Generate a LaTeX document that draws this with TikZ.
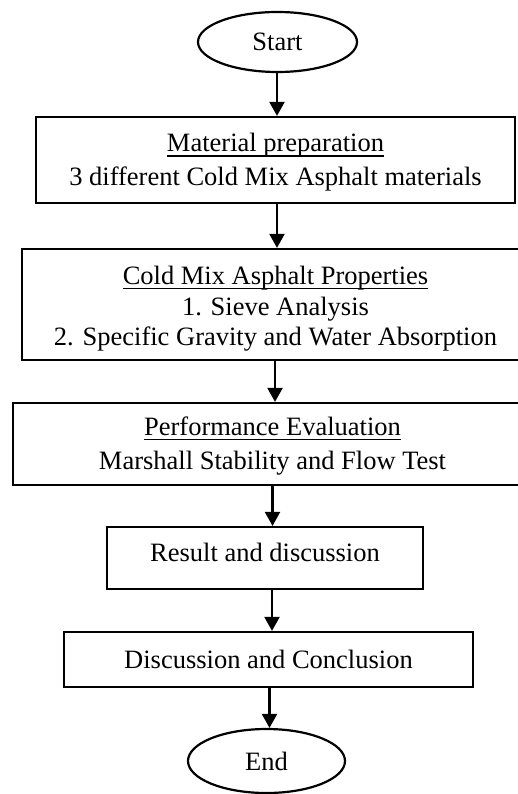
\documentclass[tikz,border=0pt]{standalone}
\usepackage{fontspec}
\setmainfont{Liberation Serif}
\usetikzlibrary{shapes.geometric,arrows.meta}
\newsavebox\myulbox
\newcommand\myul[1]{\sbox\myulbox{#1}\rlap{\rule[-4.8pt]{\wd\myulbox}{1.6pt}}\usebox\myulbox}
\newcommand\myTop[1]{\rule{0pt}{#1}}
\newcommand\myBot[1]{\rule[-#1]{0pt}{#1}}
\begin{document}
\begin{tikzpicture}[x=1pt,y=-1pt,
  every node/.style={font=\fontsize{26.5}{30.5}\selectfont},
  procbox/.style={draw, line width=2.2pt, inner sep=0pt, align=center},
  term/.style={draw, ellipse, line width=2.2pt, inner sep=0pt},
  flowarrow/.style={line width=2.2pt, -{Triangle[width=15pt,length=14pt]}}]
\useasboundingbox (0,0) rectangle (518,794);
\fill[white] (0,0) rectangle (518,794);
\node[term, minimum width=159pt, minimum height=60pt] (start) at (277.5,42) {Start};
\node[procbox, minimum width=479pt, minimum height=86pt] (prep) at (275.5,160)
  {\myTop{24pt}\myul{Material preparation}\\[3.5pt]3 different Cold Mix Asphalt materials\myBot{6pt}};
\node[procbox, minimum width=507pt, minimum height=111pt] (props) at (275.5,304.5)
  {\myTop{27pt}\myul{Cold Mix Asphalt Properties}\\1. Sieve Analysis\\2. Specific Gravity and Water Absorption\myBot{6pt}};
\node[procbox, minimum width=519pt, minimum height=82pt] (perf) at (272.5,444)
  {\myTop{24pt}\myul{Performance Evaluation}\\[3.5pt]Marshall Stability and Flow Test\myBot{7pt}};
\node[procbox, minimum width=316pt, minimum height=62pt] (result) at (265,558)
  {\myTop{19pt}Result and discussion\myBot{13pt}};
\node[procbox, minimum width=409pt, minimum height=55pt] (concl) at (268.5,659.5)
  {Discussion and Conclusion};
\node[term, minimum width=157pt, minimum height=64pt] (end) at (266.5,761) {End};
\coordinate (ax1) at (277,0);
\coordinate (ax2) at (277,0);
\coordinate (ax3) at (275,0);
\coordinate (ax4) at (272.5,0);
\coordinate (ax5) at (272,0);
\coordinate (ax6) at (269.5,0);
\draw[flowarrow] (start.south -| ax1) -- (prep.north -| ax1);
\draw[flowarrow] (prep.south -| ax2) -- (props.north -| ax2);
\draw[flowarrow] (props.south -| ax3) -- (perf.north -| ax3);
\draw[flowarrow] (perf.south -| ax4) -- (result.north -| ax4);
\draw[flowarrow] (result.south -| ax5) -- (concl.north -| ax5);
\draw[flowarrow] (concl.south -| ax6) -- (end.north -| ax6);
\end{tikzpicture}
\end{document}
